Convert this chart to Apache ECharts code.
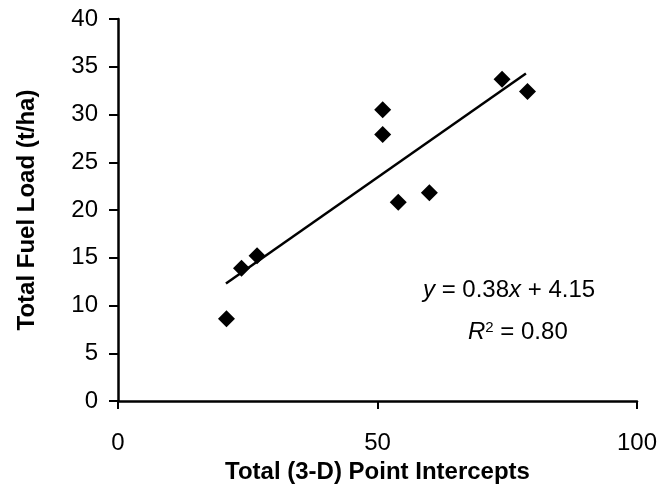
<!DOCTYPE html>
<html>
<head>
<meta charset="utf-8">
<script src="https://cdn.jsdelivr.net/npm/echarts@6/dist/echarts.min.js"></script>
<style>
html,body{margin:0;padding:0;background:#fff;}
#chart{width:668px;height:493px;}
</style>
</head>
<body>
<div id="chart"></div>
<script>
// Data
const pointX = [20.9, 23.8, 26.8, 51.0, 51.0, 54.0, 60.0, 74.0, 78.9];
const pointY = [8.6, 13.9, 15.2, 30.5, 27.9, 20.8, 21.8, 33.7, 32.4];
const trendX = [20.8, 78.6];
const trendY = [12.3, 34.3];
const xTicks = [0, 50, 100];
const yTicks = [0, 5, 10, 15, 20, 25, 30, 35, 40];
const xTitle = 'Total (3-D) Point Intercepts';
const yTitle = 'Total Fuel Load (t/ha)';

const font = '"Liberation Sans", Arial, sans-serif';
const chart = echarts.init(document.getElementById('chart'));
chart.setOption({
  backgroundColor: '#fff',
  animation: false,
  grid: {left: 118, top: 19, right: 31, bottom: 92, containLabel: false},
  xAxis: {
    type: 'value', min: xTicks[0], max: xTicks[xTicks.length - 1], interval: 50,
    name: xTitle, nameLocation: 'middle', nameGap: 58,
    nameTextStyle: {fontFamily: font, fontSize: 24, fontWeight: 'bold', color: '#000'},
    axisLine: {lineStyle: {color: '#000', width: 2.5}},
    axisTick: {length: 8, lineStyle: {color: '#000', width: 2}},
    axisLabel: {margin: 30, fontFamily: font, fontSize: 24, color: '#000'},
    splitLine: {show: false}
  },
  yAxis: {
    type: 'value', min: yTicks[0], max: yTicks[yTicks.length - 1], interval: 5,
    name: yTitle, nameLocation: 'middle', nameGap: 79, nameRotate: 90,
    nameTextStyle: {fontFamily: font, fontSize: 24, fontWeight: 'bold', color: '#000'},
    axisLine: {show: true, lineStyle: {color: '#000', width: 2.5}},
    axisTick: {show: true, length: 9, lineStyle: {color: '#000', width: 2}},
    axisLabel: {margin: 20, fontFamily: font, fontSize: 24, color: '#000'},
    splitLine: {show: false}
  },
  series: [
    {
      type: 'line',
      data: trendX.map((x, i) => [x, trendY[i]]),
      symbol: 'none',
      lineStyle: {color: '#000', width: 2.5},
      z: 2
    },
    {
      type: 'scatter',
      data: pointX.map((x, i) => [x, pointY[i]]),
      symbol: 'diamond',
      symbolSize: 17,
      itemStyle: {color: '#000', opacity: 1},
      z: 3
    }
  ],
  graphic: [
    {
      type: 'text', left: 423, top: 278,
      style: {
        rich: {
          i: {fontFamily: font, fontSize: 24, fontStyle: 'italic', fill: '#000'},
          n: {fontFamily: font, fontSize: 24, fill: '#000'}
        },
        text: '{i|y}{n| = 0.38}{i|x}{n| + 4.15}'
      }
    },
    {
      type: 'text', left: 468, top: 320,
      style: {
        rich: {
          i: {fontFamily: font, fontSize: 24, fontStyle: 'italic', fill: '#000'},
          s: {fontFamily: font, fontSize: 15, fill: '#000', verticalAlign: 'top', padding: [0, 0, 10, 0]},
          n: {fontFamily: font, fontSize: 24, fill: '#000'}
        },
        text: '{i|R}{s|2}{n| = 0.80}'
      }
    }
  ]
});
</script>
</body>
</html>
